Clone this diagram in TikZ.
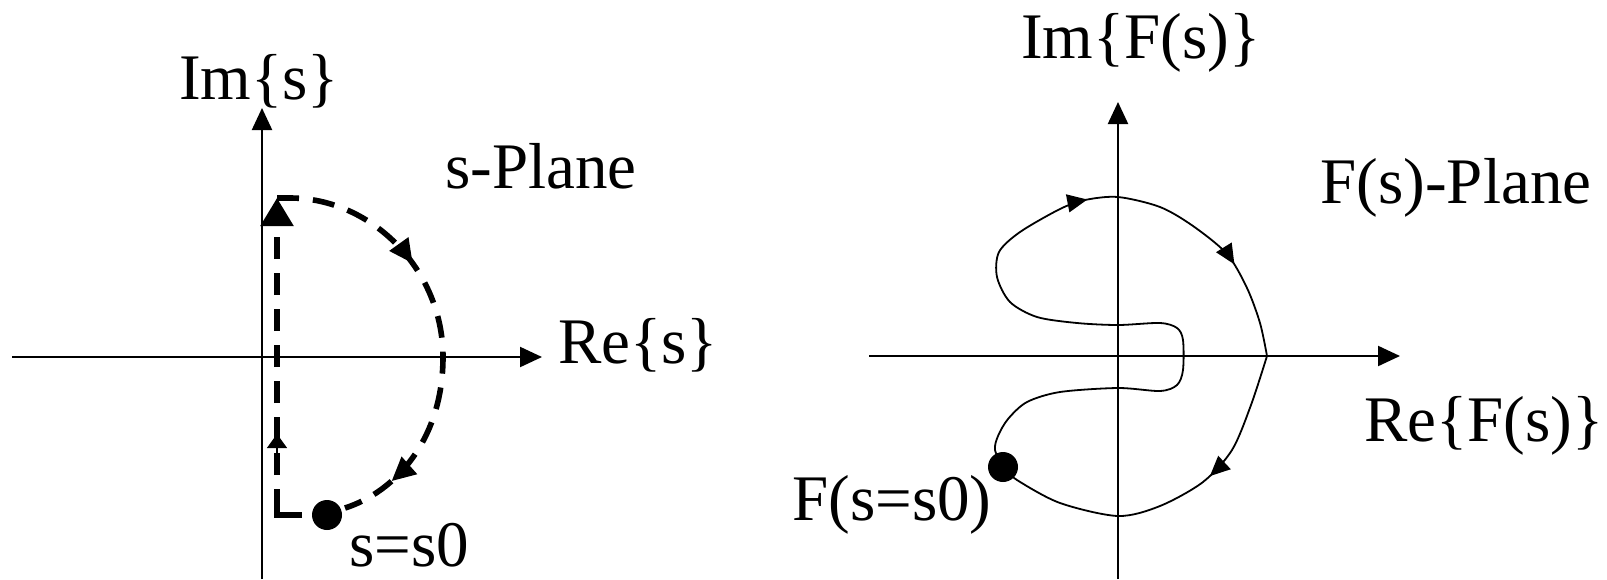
\documentclass[tikz,border=0pt]{standalone}
\usepackage{fontspec}
\setmainfont{Liberation Serif}
\usetikzlibrary{arrows.meta,decorations.markings}
\tikzset{
  arctip/.tip={Triangle[length=12pt,width=11pt]},
  ftip/.tip={Triangle[length=10pt,width=9pt]},
  smalltip/.tip={Triangle[length=7pt,width=10pt]},
}
\begin{document}
\begin{tikzpicture}[x=0.5pt,y=-0.5pt,
  axis/.style={line width=1.1pt,-{Triangle[length=11pt,width=10pt]}},
  lbl/.style={font=\fontsize{32.5}{39}\selectfont, anchor=base, inner sep=0pt},
  dotnode/.style={circle,fill=black,inner sep=0pt,minimum size=15pt},
  dashline/.style={line width=2.8pt, dash pattern=on 11pt off 7pt},
  curveline/.style={line width=0.9pt},
  bigtip/.style={-{Triangle[length=14pt,width=16pt]}},
]
\useasboundingbox (0,0) rectangle (1607,579);

% ---------- left: s-plane ----------
\coordinate (lxa) at (12,357);  \coordinate (lxb) at (542,357);
\coordinate (lya) at (262,579); \coordinate (lyb) at (262,108);
\draw[axis] (lxa) -- (lxb);
\draw[axis] (lya) -- (lyb);

\node[lbl] (ims)    at (259,99)  {Im\{s\}};
\node[lbl] (splane) at (541,188) {s-Plane};
\node[lbl] (res)    at (638,363) {Re\{s\}};
\node[lbl] (slab)   at (409,566) {s=s0};

\node[dotnode] (s0) at (327,515) {};

\coordinate (c1) at (277,515);
\coordinate (c2) at (277,493);
\coordinate (c3) at (277,198);
\coordinate (c4) at (290,198);
\coordinate (c5) at (443,357);
\coordinate (c6) at (345,508);

% solid L corner
\draw[line width=2.8pt] (302,515) -- (c1) -- (c2);
% dashed vertical with big arrow
\draw[dashline, dash phase=9pt, bigtip] (c2) -- (c3);
% small arrow on vertical
\path[solid, decoration={markings, mark=at position 0.2 with {%
    \draw[line width=0.8pt] (-12pt,0) -- (-2pt,0);
    \arrow[line width=0.6pt]{smalltip}}},
  decorate] (c2) -- (c3);
% dashed arc
\draw[dashline,
  decoration={markings,
    mark=at position 0.35 with {\arrow{arctip}},
    mark=at position 0.88 with {\arrow{arctip}}},
  postaction={solid, decorate}]
  (c3) -- (c4) .. controls (372,198) and (443,270) .. (c5)
  .. controls (443,440) and (395,492) .. (c6);

% ---------- right: F(s)-plane ----------
\coordinate (rxa) at (869,356);  \coordinate (rxb) at (1400,356);
\coordinate (rya) at (1118,579); \coordinate (ryb) at (1118,102);
\draw[axis] (rxa) -- (rxb);
\draw[axis] (rya) -- (ryb);

\node[lbl] (imf)    at (1141,58)  {Im\{F(s)\}};
\node[lbl] (fplane) at (1456,203) {F(s)-Plane};
\node[lbl] (ref)    at (1484,441) {Re\{F(s)\}};
\node[lbl] (flab)   at (892,520)  {F(s=s0)};

\coordinate (kink) at (1267,356);

\draw[curveline,
  decoration={markings,
    mark=at position 0.70 with {\arrow{ftip}},
    mark=at position 0.89 with {\arrow{ftip}}},
  postaction={decorate}]
  plot[smooth] coordinates {(1003,467) (995,450) (998,436) (1008,419) (1027,402)
    (1060,392) (1118,388) (1160,391) (1177,385) (1183,370) (1183,340) (1177,328)
    (1160,323) (1118,325) (1077,323) (1037,317) (1010,302) (997,277) (999,252)
    (1020,232) (1060,209) (1085,200) (1118,197) (1160,207) (1193,226)
    (1227,254) (1247,288) (1260,323) (kink)};
\draw[curveline,
  decoration={markings,
    mark=at position 0.37 with {\arrow{ftip}}},
  postaction={decorate}]
  plot[smooth] coordinates {(kink) (1251,405) (1232,450) (1203,482)
    (1160,506) (1118,516) (1060,503) (1017,480) (1003,467)};

\node[dotnode] (f0) at (1003,467) {};
\end{tikzpicture}
\end{document}
